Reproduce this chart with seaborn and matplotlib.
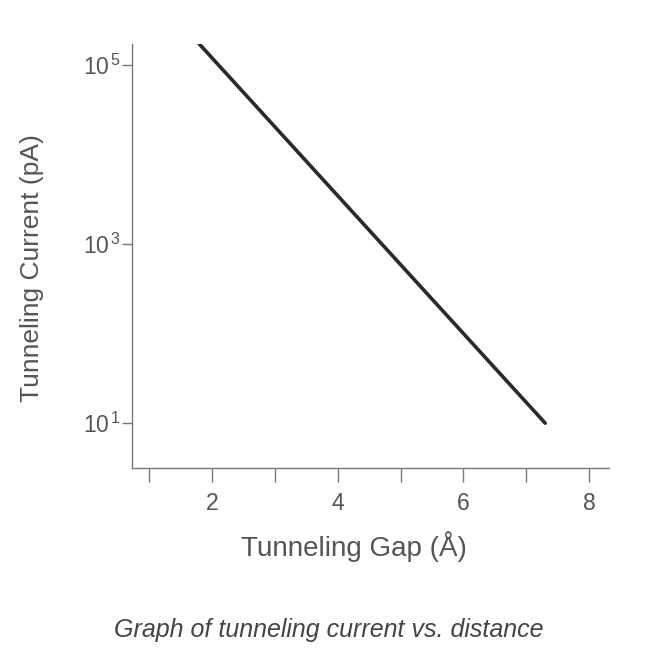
import matplotlib
matplotlib.use("Agg")
import matplotlib.pyplot as plt
import seaborn as sns
import pandas as pd

# values
gap_angstrom = [1.8, 7.3]
current_pA = [1.7e5, 10.0]
x_ticks = [1, 2, 3, 4, 5, 6, 7, 8]
x_tick_labels = ["", "2", "", "4", "", "6", "", "8"]
y_ticks = [1e1, 1e3, 1e5]
y_tick_labels = ["10$^{\\,1}$", "10$^{\\,3}$", "10$^{\\,5}$"]

sns.set_theme(style="ticks")
plt.rcParams["font.family"] = ["Liberation Sans", "DejaVu Sans"]
plt.rcParams["mathtext.fontset"] = "custom"
plt.rcParams["mathtext.rm"] = "Liberation Sans"
plt.rcParams["mathtext.it"] = "Liberation Sans:italic"

TEXT = "#555555"
AXIS = "#7a7a7a"

df = pd.DataFrame({"gap": gap_angstrom, "current": current_pA})

fig = plt.figure(figsize=(6.62, 6.56), dpi=100)
ax = fig.add_axes([0.1994, 0.2866, 0.7211, 0.6463])

sns.lineplot(data=df, x="gap", y="current", ax=ax, color="#2a2a2a", linewidth=2.6)

ax.set_yscale("log")
ax.set_xlim(0.73, 8.32)
ax.set_ylim(10 ** 0.5, 10 ** 5.23)

ax.set_xticks(x_ticks)
ax.set_xticklabels(x_tick_labels)
ax.set_yticks(y_ticks)
ax.set_yticklabels(y_tick_labels)
ax.minorticks_off()

for side in ["top", "right"]:
    ax.spines[side].set_visible(False)
for side in ["left", "bottom"]:
    ax.spines[side].set_color(AXIS)
    ax.spines[side].set_linewidth(1.0)

ax.tick_params(axis="x", length=10, width=1, color=AXIS, pad=7, labelsize=16.5, labelcolor=TEXT)
ax.tick_params(axis="y", length=7, width=1, color=AXIS, pad=1, labelsize=16.5, labelcolor=TEXT)

ax.set_xlabel("Tunneling Gap (Å)", fontsize=20, color=TEXT)
ax.set_ylabel("Tunneling Current (pA)", fontsize=19, color=TEXT)
ax.xaxis.set_label_coords(0.465, -0.15)
ax.yaxis.set_label_coords(-0.184, 0.472)

fig.text(0.497, 0.04, "Graph of tunneling current vs. distance", fontsize=18,
         style="italic", color="#444444", ha="center", va="center")

fig.savefig("out.png", dpi=100, facecolor="white")
